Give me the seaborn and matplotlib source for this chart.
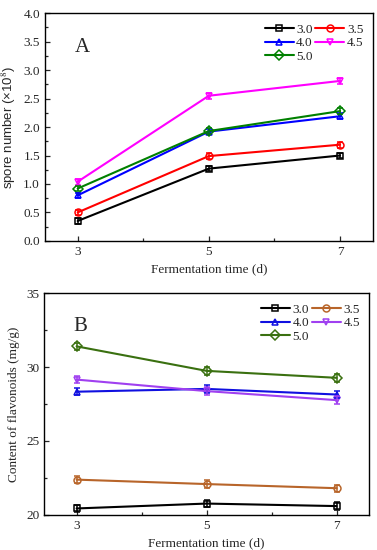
"""spore number and flavonoid content over fermentation time"""

import pandas as pd
import matplotlib.pyplot as plt
from matplotlib.ticker import MultipleLocator
import seaborn as sns

days = [3, 5, 7]
groups = ["3.0", "3.5", "4.0", "4.5", "5.0"]

spore_30 = [0.35, 1.27, 1.50]
spore_35 = [0.50, 1.49, 1.69]
spore_40 = [0.80, 1.92, 2.19]
spore_45 = [1.04, 2.55, 2.81]
spore_50 = [0.92, 1.93, 2.28]

flav_30 = [20.43, 20.76, 20.59]
flav_35 = [22.38, 22.08, 21.80]
flav_40 = [28.33, 28.52, 28.14]
flav_45 = [29.15, 28.37, 27.76]
flav_50 = [31.40, 29.74, 29.27]

spore_err = 0.05
flav_err = 0.25

markers = ["s", "o", "^", "v", "D"]
colors_a = ["#000000", "#ff0000", "#0000ff", "#ff00ff", "#008000"]
colors_b = ["#000000", "#b8652a", "#1010e0", "#a040f0", "#3a7010"]


def to_long(series, value_name):
    rows = []
    for g, vals in zip(groups, series):
        for d, v in zip(days, vals):
            rows.append({"day": d, "group": g, value_name: v})
    return pd.DataFrame(rows)


def draw_panel(ax, df, value_name, colors, err, letter, ylim, major, ylabel, ylabel_font):
    sns.lineplot(data=df, x="day", y=value_name, hue="group", style="group",
                 markers=markers, dashes=False, palette=colors, ax=ax,
                 linewidth=1.5, markersize=5, legend=False)
    lines = list(ax.lines)
    for line in lines:
        line.set_markeredgecolor(line.get_color())
        line.set_markerfacecolor("none")
        line.set_markeredgewidth(1.1)
    for g, c in zip(groups, colors):
        sub = df[df["group"] == g]
        ax.errorbar(sub["day"], sub[value_name], yerr=err, fmt="none",
                    ecolor=c, elinewidth=1.1, capsize=2.5, capthick=1.1)
    ax.set_xlim(2.5, 7.5)
    ax.set_ylim(*ylim)
    ax.set_xticks(days)
    ax.xaxis.set_minor_locator(MultipleLocator(1))
    ax.yaxis.set_major_locator(MultipleLocator(major))
    ax.yaxis.set_minor_locator(MultipleLocator(major / 2))
    ax.tick_params(which="both", direction="in", top=False, right=False,
                   labelsize=9.5, width=0.9)
    ax.tick_params(which="major", length=3.5)
    ax.tick_params(which="minor", length=2)
    for s in ax.spines.values():
        s.set_linewidth(1.0)
        s.set_color("black")
    ax.set_xlabel("Fermentation time (d)", fontsize=9.5)
    ax.set_ylabel(ylabel, fontsize=9.5, family=ylabel_font)
    ax.text(0.09, 0.83, letter, transform=ax.transAxes, fontsize=15)
    # row-major order like the original: 3.0 3.5 / 4.0 4.5 / 5.0
    order = [0, 2, 4, 1, 3]
    ax.legend([lines[i] for i in order], [groups[i] for i in order], ncol=2,
              loc="upper right", frameon=False, fontsize=9.5, handlelength=2.2,
              handletextpad=0.2, columnspacing=0.2, labelspacing=0.1,
              borderaxespad=0.3, bbox_to_anchor=(1.0, 0.995))


sns.set_theme(style="ticks")
plt.rcParams["font.family"] = ["Liberation Serif", "DejaVu Serif"]
plt.rcParams["mathtext.fontset"] = "stix"

fig = plt.figure(figsize=(3.77, 5.5), dpi=100)
ax_a = fig.add_axes([0.119, 0.562, 0.870, 0.414])
ax_b = fig.add_axes([0.117, 0.064, 0.862, 0.403])

df_a = to_long([spore_30, spore_35, spore_40, spore_45, spore_50], "spore")
df_b = to_long([flav_30, flav_35, flav_40, flav_45, flav_50], "flav")

draw_panel(ax_a, df_a, "spore", colors_a, spore_err, "A", (0, 4), 0.5,
           "spore number (×10$^{8}$)", "Liberation Sans")
ax_a.yaxis.set_major_formatter(plt.FuncFormatter(lambda v, p: f"{v:.1f}"))
draw_panel(ax_b, df_b, "flav", colors_b, flav_err, "B", (20, 35), 5,
           "Content of flavonoids (mg/g)", "Liberation Serif")

fig.savefig("out.png", dpi=100)
plt.close(fig)
